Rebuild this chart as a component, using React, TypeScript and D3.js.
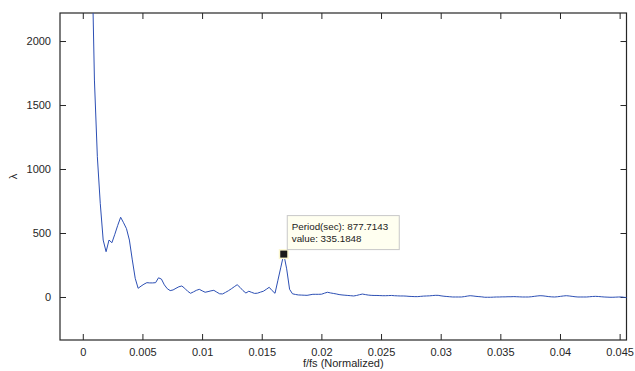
import { useRef, useEffect } from 'react'
import * as d3 from 'd3'

// spectrum bins: f/fs = bin / 4096, starting at bin 1
const FREQ_STEP = 1 / 4096
const LAMBDA = [
  6200, 4400, 2830, 1695, 1096, 732, 445, 354, 445, 424,
  490, 560, 623, 580, 534, 445, 290, 146, 68, 85,
  100, 112, 110, 110, 112, 150, 140, 95, 65, 50,
  55, 68, 80, 86, 68, 45, 29, 40, 52, 60,
  48, 37, 42, 48, 52, 38, 25, 24, 36, 49,
  64, 80, 96, 75, 50, 31, 45, 36, 28, 30,
  38, 45, 60, 76, 50, 29, 131, 233, 335.1848, 220,
  60, 25, 20, 16, 15, 14, 13, 17, 21, 21,
  21, 22, 30, 37, 32, 28, 24, 19, 16, 14,
  12, 10, 8, 12, 18, 23, 19, 15, 13, 12,
  12, 11, 10, 10, 11, 12, 10, 9, 8, 8,
  7, 5, 4, 3, 3, 5, 7, 8, 9, 11,
  13, 13, 9, 6, 4, 2, 0, 0, 0, 0,
  3, 7, 10, 8, 5, 3, 1, -2, -2, -2,
  -1, 0, 0, 1, 1, 2, 2, 3, 2, 1,
  0, 0, 0, 2, 5, 8, 10, 9, 6, 3,
  1, 0, 2, 5, 8, 10, 8, 5, 2, 0,
  0, 0, 0, 2, 4, 5, 4, 2, 0, -1,
  -2, -2, -1, 0, 0, -3, -5,
]

const X_TICKS = [0, 0.005, 0.01, 0.015, 0.02, 0.025, 0.03, 0.035, 0.04, 0.045]
const Y_TICKS = [0, 500, 1000, 1500, 2000]
const X_DOMAIN = [-0.00191, 0.045575]
const Y_DOMAIN = [-336, 2219]

const PEAK_BIN = 69
const TIP_LINES = ['Period(sec): 877.7143', 'value: 335.1848']

export default function App() {
  const svgRef = useRef<SVGSVGElement>(null)

  useEffect(() => {
    if (!svgRef.current) return
    const svg = d3.select(svgRef.current)
    svg.selectAll('*').remove()

    const width = 635
    const height = 371
    const m = { left: 60, top: 13, right: 626.5, bottom: 340 }
    const font = 'Liberation Sans, Arial, sans-serif'
    const ink = '#262626'

    svg.attr('width', width).attr('height', height)

    const x = d3.scaleLinear().domain(X_DOMAIN).range([m.left, m.right])
    const y = d3.scaleLinear().domain(Y_DOMAIN).range([m.bottom, m.top])

    svg.append('rect').attr('width', width).attr('height', height).attr('fill', '#fff')

    svg.append('defs').append('clipPath').attr('id', 'plot-clip')
      .append('rect')
      .attr('x', m.left).attr('y', m.top)
      .attr('width', m.right - m.left).attr('height', m.bottom - m.top)

    const tickLen = 6

    // Axes with inward ticks on all four sides
    const bottom = svg.append('g').attr('transform', `translate(0,${m.bottom})`)
      .call(d3.axisBottom(x).tickValues(X_TICKS).tickSizeInner(-tickLen).tickSizeOuter(0)
        .tickPadding(8).tickFormat(d => String(d)))
    const top = svg.append('g').attr('transform', `translate(0,${m.top})`)
      .call(d3.axisTop(x).tickValues(X_TICKS).tickSizeInner(-tickLen).tickSizeOuter(0)
        .tickFormat(() => ''))
    const left = svg.append('g').attr('transform', `translate(${m.left},0)`)
      .call(d3.axisLeft(y).tickValues(Y_TICKS).tickSizeInner(-tickLen).tickSizeOuter(0)
        .tickPadding(9).tickFormat(d => String(d)))
    const right = svg.append('g').attr('transform', `translate(${m.right},0)`)
      .call(d3.axisRight(y).tickValues(Y_TICKS).tickSizeInner(-tickLen).tickSizeOuter(0)
        .tickFormat(() => ''))

    for (const g of [bottom, top, left, right]) {
      g.select('.domain').remove()
      g.selectAll('line').attr('stroke', ink)
      g.selectAll('text').style('font-family', font).style('font-size', '11px').attr('fill', ink)
    }

    svg.append('rect')
      .attr('x', m.left).attr('y', m.top)
      .attr('width', m.right - m.left).attr('height', m.bottom - m.top)
      .attr('fill', 'none').attr('stroke', ink).attr('stroke-width', 1.2)

    // Spectrum line
    const line = d3.line<number>()
      .x((_, i) => x((i + 1) * FREQ_STEP))
      .y(d => y(d))

    svg.append('path')
      .datum(LAMBDA)
      .attr('clip-path', 'url(#plot-clip)')
      .attr('d', line)
      .attr('fill', 'none')
      .attr('stroke', '#2c4fb4')
      .attr('stroke-width', 1)

    // Data tip
    const px = x(PEAK_BIN * FREQ_STEP)
    const py = y(LAMBDA[PEAK_BIN - 1])
    svg.append('rect')
      .attr('x', px - 5).attr('y', py - 5).attr('width', 10).attr('height', 10)
      .attr('fill', '#fbf7d0')
    svg.append('rect')
      .attr('x', px - 3.5).attr('y', py - 3.5).attr('width', 7).attr('height', 7)
      .attr('fill', '#1a1a1a')

    const tip = svg.append('g').attr('transform', `translate(${px + 3},${py - 39})`)
    tip.append('rect')
      .attr('x', 0.5).attr('y', 0.5).attr('width', 112).attr('height', 34)
      .attr('fill', '#fffff0').attr('stroke', '#c8c8c8')
    TIP_LINES.forEach((t, i) => {
      tip.append('text')
        .attr('x', 5).attr('y', 15 + i * 11.5)
        .style('font-family', font).style('font-size', '9.8px')
        .attr('fill', '#1a1a1a')
        .text(t)
    })

    // Axis labels
    svg.append('text')
      .attr('x', (m.left + m.right) / 2).attr('y', 367)
      .attr('text-anchor', 'middle')
      .style('font-family', font).style('font-size', '11px').attr('fill', ink)
      .text('f/fs (Normalized)')

    svg.append('text')
      .attr('transform', `translate(17,${(m.top + m.bottom) / 2}) rotate(-90)`)
      .attr('text-anchor', 'middle')
      .style('font-family', font).style('font-size', '11px').attr('fill', ink)
      .text('λ')
  }, [])

  return <svg ref={svgRef} style={{ position: 'absolute', left: 0, top: 0 }} />
}
